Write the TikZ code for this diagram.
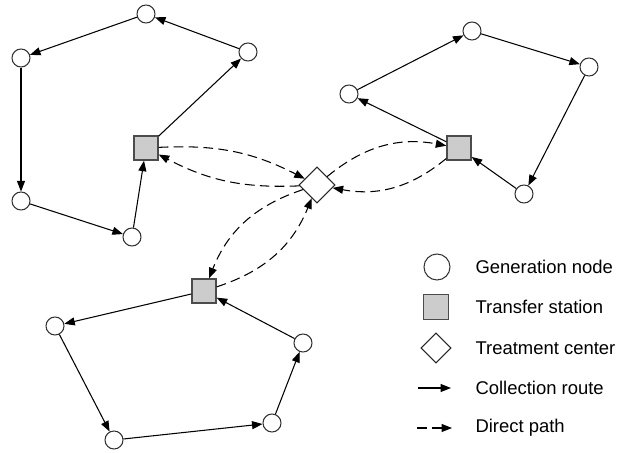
\documentclass[tikz,border=0pt]{standalone}
\usepackage{fontspec}
\setmainfont{Liberation Sans}
\usetikzlibrary{shapes.geometric}
\usetikzlibrary{arrows.meta}

\begin{document}
\begin{tikzpicture}[>={Triangle[length=2.1mm,width=1.6mm]}, line width=0.6pt, font=\fontsize{10.5}{12.6}\selectfont]
\tikzset{gen/.style={draw=black!80,circle,inner sep=0pt,minimum size=0.36cm,fill=white}}
\tikzset{station/.style={draw=black!70,rectangle,inner sep=0pt,minimum size=0.48cm,fill=black!20,line width=0.8pt}}
\tikzset{treat/.style={draw=black!85,diamond,inner sep=0pt,minimum size=0.72cm,fill=white}}
\tikzset{direct/.style={dash pattern=on 5.5pt off 3pt}}
\useasboundingbox (0,0) rectangle (12.4,9.06);

% first cluster
\node (s1) at (2.92,6.10) [station] {};
\node (1) at (2.92,8.78) [gen] {};
\node (2) at (4.96,8.02) [gen] {};
\node (3) at (0.42,7.90) [gen] {};
\node (4) at (0.42,5.04) [gen] {};
\node (5) at (2.64,4.32) [gen] {};

% second cluster
\node (s2) at (9.18,6.10) [station] {};
\node (6) at (6.98,7.18) [gen] {};
\node (7) at (9.44,8.44) [gen] {};
\node (8) at (11.78,7.72) [gen] {};
\node (9) at (10.48,5.18) [gen] {};

% third cluster
\node (s3) at (4.08,3.24) [station] {};
\node (10) at (1.10,2.54) [gen] {};
\node (11) at (2.28,0.26) [gen] {};
\node (12) at (5.44,0.60) [gen] {};
\node (13) at (6.06,2.20) [gen] {};

\node (c) at (6.34,5.36) [treat] {};

\path
(s1) edge [->] (2)
(2) edge [->] (1)
(1) edge [->] (3)
(3) edge [->] (4)
(4) edge [->] (5)
(5) edge [->] (s1)
(s2) edge [->] (6)
(6) edge [->] (7)
(7) edge [->] (8)
(8) edge [->] (9)
(9) edge [->] (s2)
(s3) edge [->] (10)
(10) edge [->] (11)
(11) edge [->] (12)
(12) edge [->] (13)
(13) edge [->] (s3);

\path
(s1) edge [->, direct, bend left=15] (c)
(c) edge [->, direct, bend left=15] (s1)
(c) edge [->, direct, bend left=25] (s2)
(s2) edge [->, direct, bend left=25] (c)
(c) edge [->, direct, bend right=25] (s3)
(s3) edge [->, direct, bend right=25] (c);

% legend
\node (lg) at (8.74,3.72) [gen, minimum size=0.52cm] {};
\node (ls) at (8.72,2.92) [station, minimum size=0.5cm] {};
\node (lt) at (8.72,2.10) [treat, minimum size=0.6cm] {};
\coordinate (r1) at (8.36,1.30);
\coordinate (r2) at (9.02,1.30);
\coordinate (p1) at (8.34,0.50);
\coordinate (p2) at (9.04,0.50);
\draw [->] (r1) -- (r2);
\draw [->, direct] (p1) -- (p2);
\node (tg) at (9.5,3.72) [anchor=west,inner sep=0pt] {Generation node};
\node (ts) at (9.5,2.92) [anchor=west,inner sep=0pt] {Transfer station};
\node (tt) at (9.5,2.10) [anchor=west,inner sep=0pt] {Treatment center};
\node (tr) at (9.5,1.30) [anchor=west,inner sep=0pt] {Collection route};
\node (tp) at (9.5,0.50) [anchor=west,inner sep=0pt] {Direct path};
\end{tikzpicture}
\end{document}
